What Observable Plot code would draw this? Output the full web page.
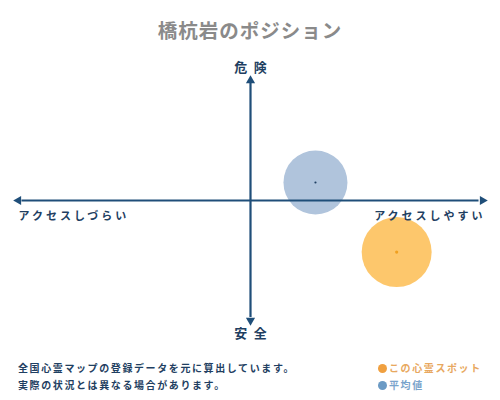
<!DOCTYPE html>
<html><head><meta charset="utf-8">
<script src="https://cdn.jsdelivr.net/npm/d3@7"></script>
<script src="https://cdn.jsdelivr.net/npm/@observablehq/plot@0.6"></script>
<style>
body{margin:0;background:#fff;font-family:"Noto Sans CJK JP",sans-serif;}
#wrap{width:500px;height:400px;position:relative;overflow:hidden;}
#title{height:45px;line-height:60px;text-align:center;font-size:19.5px;font-weight:bold;color:#8a8a8a;letter-spacing:1px;}
#foot{position:relative;height:50px;}
.note{position:absolute;left:18px;font-size:10px;font-weight:bold;color:#1f3f62;letter-spacing:1.6px;white-space:nowrap;}
.leg{position:absolute;left:378px;font-size:10px;font-weight:bold;letter-spacing:1.6px;white-space:nowrap;}
.leg span.d{display:inline-block;width:9px;height:9px;border-radius:50%;margin-right:2px;vertical-align:-1px;}
.side text{letter-spacing:3px;}
.tb text{white-space:pre;}
</style></head>
<body><div id="wrap"><div id="title"></div><div id="chart"></div><div id="foot"></div></div>
<script>
const title = "橋杭岩のポジション";
const axisTop = "危\u2002険";
const axisBottom = "安\u2002全";
const axisLeft = "アクセスしづらい";
const axisRight = "アクセスしやすい";
const notes = ["全国心霊マップの登録データを元に算出しています。", "実際の状況とは異なる場合があります。"];
const seriesNames = ["この心霊スポット", "平均値"];
const accessX = [0.63, 0.28];
const dangerY = [-0.43, 0.15];

const navy = "#1f4e79";
const fills = ["#fdc76c", "#b0c4dc"];
const centers = ["#f0a020", "#1f3f62"];
const legendColors = ["#f0a040", "#6b9ac4"];
const legendText = ["#e8a860", "#7aa4cc"];

document.getElementById("title").textContent = title;
const pts = seriesNames.map((n, i) => ({name: n, x: accessX[i], y: dangerY[i], i}));

const chart = Plot.plot({
  width: 500, height: 305,
  margin: 0,
  x: {domain: [-1, 1], range: [18, 482], axis: null},
  y: {domain: [-1, 1], range: [275, 35], axis: null},
  r: {type: "identity"},
  style: {fontFamily: "'Noto Sans CJK JP', sans-serif", background: "#fff"},
  marks: [
    Plot.dot(pts, {x: "x", y: "y", r: d => d.i === 0 ? 35 : 32, fill: d => fills[d.i], stroke: "none"}),
    Plot.dot(pts, {x: "x", y: "y", r: d => d.i === 0 ? 1.6 : 1.1, fill: d => centers[d.i]}),
    Plot.ruleY([0], {x1: -0.985, x2: 0.985, stroke: navy, strokeWidth: 2.2}),
    Plot.ruleX([0], {y1: -0.975, y2: 0.975, stroke: navy, strokeWidth: 2.2}),
    Plot.dot([{x: 1, y: 0, rot: 90, dx: -4, dy: 0}, {x: -1, y: 0, rot: -90, dx: 4, dy: 0}, {x: 0, y: 1, rot: 0, dx: 0, dy: 4}, {x: 0, y: -1, rot: 180, dx: 0, dy: -4}],
      {x: "x", y: "y", symbol: "triangle", r: 3.4, fill: navy, stroke: "none", rotate: "rot"}),
    Plot.text([axisTop], {x: 0, y: 1, dy: -13, text: d => d, fontSize: 13, fontWeight: "bold", fill: "#1f3f62", className: "tb"}),
    Plot.text([axisBottom], {x: 0, y: -1, dy: 13, text: d => d, fontSize: 13, fontWeight: "bold", fill: "#1f3f62", className: "tb"}),
    Plot.text([axisLeft], {x: -1, y: 0, dy: 16, textAnchor: "start", text: d => d, fontSize: 11, fontWeight: "bold", fill: "#1f3f62", className: "side"}),
    Plot.text([axisRight], {x: 1, y: 0, dy: 16, dx: 3, textAnchor: "end", text: d => d, fontSize: 11, fontWeight: "bold", fill: "#1f3f62", className: "side"})
  ]
});
document.getElementById("chart").appendChild(chart);

const foot = document.getElementById("foot");
notes.forEach((t, k) => {
  const d = document.createElement("div");
  d.className = "note"; d.style.top = (10 + k * 17) + "px"; d.textContent = t;
  foot.appendChild(d);
});
seriesNames.forEach((n, k) => {
  const d = document.createElement("div");
  d.className = "leg"; d.style.top = (10 + k * 17) + "px"; d.style.color = legendText[k];
  d.innerHTML = `<span class="d" style="background:${legendColors[k]}"></span>`;
  d.appendChild(document.createTextNode(n));
  foot.appendChild(d);
});
</script></body></html>
